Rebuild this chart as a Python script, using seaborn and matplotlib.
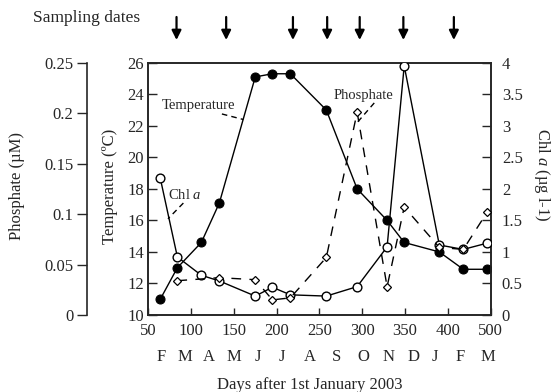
import matplotlib
matplotlib.use('Agg')
import matplotlib.pyplot as plt
import seaborn as sns

# sampling days (days after 1 Jan 2003)
day = [64, 84, 112, 133, 175, 195, 216, 258, 294, 329, 349, 390, 418, 446]
temp = [11.0, 13.0, 14.6, 17.1, 25.1, 25.3, 25.3, 23.0, 18.0, 16.0, 14.6, 14.0, 12.9, 12.9]
chl = [2.17, 0.92, 0.63, 0.54, 0.30, 0.44, 0.32, 0.30, 0.45, 1.08, 3.95, 1.11, 1.04, 1.14]
phos_day = [84, 133, 175, 195, 216, 258, 294, 329, 349, 390, 418, 446]
phos = [0.034, 0.037, 0.035, 0.015, 0.017, 0.057, 0.201, 0.028, 0.107, 0.067, 0.065, 0.102]
arrow_days = [83, 141, 219, 259, 297, 348, 407]

xticks = [50, 100, 150, 200, 250, 300, 350, 400, 450]
xticklabels = ['50', '100', '150', '200', '250', '300', '350', '400', '500']
months = ['F', 'M', 'A', 'M', 'J', 'J', 'A', 'S', 'O', 'N', 'D', 'J', 'F', 'M']
month_pos = [64.5, 93, 121, 150.5, 178.5, 206, 239, 270, 301, 330.5, 359.5, 385, 414, 447]
temp_ticks = [10, 12, 14, 16, 18, 20, 22, 24, 26]
chl_ticks = [0, 0.5, 1, 1.5, 2, 2.5, 3, 3.5, 4]
chl_ticklabels = ['0', '0.5', '1', '1.5', '2', '2.5', '3', '3.5', '4']
phos_ticks = [0, 0.05, 0.1, 0.15, 0.2, 0.25]
phos_ticklabels = ['0', '0.05', '0.1', '0.15', '0.2', '0.25']

sns.set_style('ticks')
plt.rcParams['font.family'] = ['Liberation Serif', 'DejaVu Serif']
plt.rcParams['mathtext.fontset'] = 'custom'
plt.rcParams['mathtext.rm'] = 'Liberation Serif'
plt.rcParams['mathtext.it'] = 'Liberation Serif:italic'
plt.rcParams['axes.linewidth'] = 1.2

fig = plt.figure(figsize=(5.51, 3.92), dpi=100)
ax = fig.add_axes([0.2691, 0.1964, 0.6214, 0.6436])
ax2 = ax.twinx()
ax3 = ax.twinx()

# temperature
sns.lineplot(x=day, y=temp, ax=ax, color='black', lw=1, marker='o', markersize=6.5,
             markerfacecolor='black', markeredgecolor='black', zorder=3)
# chl a
sns.lineplot(x=day, y=chl, ax=ax2, color='black', lw=1, marker='o', markersize=6.3,
             markerfacecolor='white', markeredgecolor='black', markeredgewidth=1, zorder=3)
# phosphate
sns.lineplot(x=phos_day, y=phos, ax=ax3, color='black', lw=1, marker='D', markersize=4.5,
             markerfacecolor='white', markeredgecolor='black', markeredgewidth=0.9,
             linestyle=(0, (7, 6)), zorder=2)

ax.set_xlim(50, 450)
ax.set_ylim(10, 26)
ax2.set_ylim(0, 4)
ax3.set_ylim(0, 0.25)

ax.set_xticks(xticks)
ax.set_xticklabels(xticklabels)
ax.set_yticks(temp_ticks)
ax2.set_yticks(chl_ticks)
ax2.set_yticklabels(chl_ticklabels)
ax3.set_yticks(phos_ticks)
ax3.set_yticklabels(phos_ticklabels)

ax.tick_params(axis='x', direction='in', length=5, width=1, labelsize=12, pad=6)
ax.tick_params(axis='y', direction='in', length=6.5, width=1, labelsize=12, pad=3)
ax2.tick_params(axis='y', direction='in', length=6.5, width=1, labelsize=12, pad=8)

# far-left phosphate axis
ax3.spines['left'].set_visible(True)
ax3.spines['left'].set_position(('axes', -0.178))
ax3.spines['right'].set_visible(False)
ax3.spines['top'].set_visible(False)
ax3.spines['bottom'].set_visible(False)
ax3.yaxis.set_ticks_position('left')
ax3.yaxis.set_label_position('left')
ax3.tick_params(axis='y', direction='out', length=7, width=1, labelsize=12, pad=3)

for a in (ax, ax2, ax3):
    a.set_xlabel('')
    a.set_ylabel('')
for s in ('top', 'right'):
    ax.spines[s].set_visible(True)

# month letters under the day numbers
for m, p in zip(months, month_pos):
    ax.text(p, -0.165, m, transform=ax.get_xaxis_transform(), ha='center', va='center', fontsize=12)

# inline labels with dashed leaders
ax.text(66, 23.3, 'Temperature', fontsize=10.5, ha='left', va='center')
ax.plot([136, 161], [22.75, 22.4], color='black', lw=1, linestyle=(0, (4, 3)))
ax.text(73, 17.6, 'Chl $\\it{a}$', fontsize=10.5, ha='left', va='center')
ax.plot([91, 73], [17.1, 16.1], color='black', lw=1, linestyle=(0, (4, 3)))
ax.text(266, 23.95, 'Phosphate', fontsize=10.5, ha='left', va='center')
ax.plot([314, 294], [23.45, 22.2], color='black', lw=1, linestyle=(0, (4, 3)))

# sampling date arrows
for d in arrow_days:
    ax.annotate('', xy=(d, 1 - 40 / 392), xytext=(d, 1 - 17 / 392),
                xycoords=('data', 'figure fraction'), textcoords=('data', 'figure fraction'),
                arrowprops=dict(arrowstyle='-|>', color='black', lw=1.6, mutation_scale=14,
                                shrinkA=0, shrinkB=0),
                annotation_clip=False)
fig.text(33 / 551, 1 - 18 / 392, 'Sampling dates', fontsize=12.5, ha='left', va='center')

fig.text(17.5 / 551, 1 - 186 / 392, 'Phosphate (µM)', rotation=90, fontsize=12, ha='center', va='center')
fig.text(110 / 551, 1 - 186 / 392, 'Temperature (ºC)', rotation=90, fontsize=12, ha='center', va='center')
fig.text(542 / 551, 1 - 175 / 392, 'Chl $\\it{a}$ (µg l-1)', rotation=270, fontsize=12, ha='center', va='center')
fig.text(310 / 551, 1 - 385 / 392, 'Days after 1st January 2003', fontsize=12, ha='center', va='center')

fig.savefig('out.png', dpi=100)
